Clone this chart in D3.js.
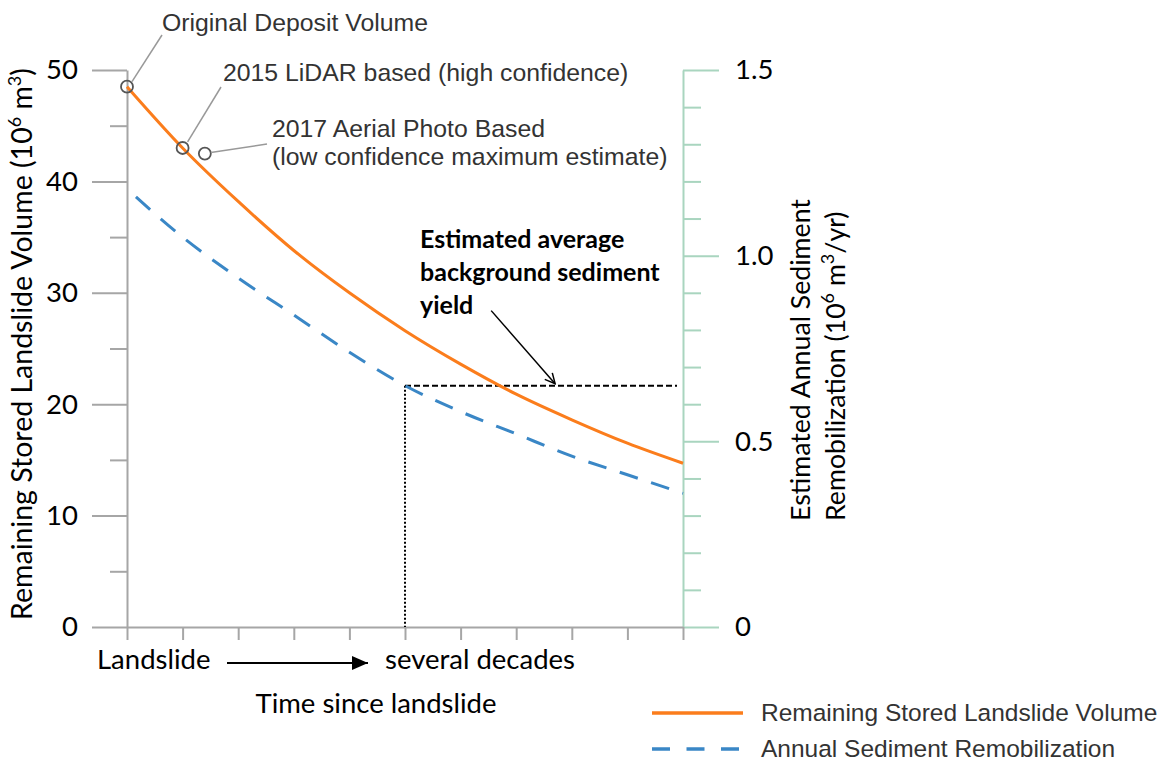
<!DOCTYPE html>
<html lang="en">
<head>
<meta charset="UTF-8">
<title>Stored landslide volume and sediment remobilization</title>
<script src="https://d3js.org/d3.v7.min.js"></script>
<style>
    body { margin: 0; background: #fff; }
    svg { display: block; }
    .cal { font-family: Lato, "Open Sans", sans-serif; fill: #000; }
    .ar { font-family: "Liberation Sans", Arial, sans-serif; fill: #333; }
</style>
</head>
<body>
<svg id="chart" width="1168" height="763"></svg>
<script>
    // time axis is unitless: 0 = landslide, 10 = several decades later
    const timeSteps = [0, 1, 2, 3, 4, 5, 6, 7, 8, 9, 10];
    const storedVolume = [48.5, 43.0, 38.2, 33.8, 30.0, 26.6, 23.6, 20.9, 18.6, 16.5, 14.7];   // 10^6 m3
    const remobilization = [1.18, 1.05, 0.94, 0.84, 0.74, 0.65, 0.58, 0.52, 0.46, 0.41, 0.36]; // 10^6 m3/yr

    const volumeTicks = [0, 10, 20, 30, 40, 50];
    const volumeMinorTicks = [5, 15, 25, 35, 45];
    const rateTicks = [0, 0.5, 1.0, 1.5];
    const rateTickLabels = ["0", "0.5", "1.0", "1.5"];
    const rateMinorTicks = [0.1, 0.2, 0.3, 0.4, 0.6, 0.7, 0.8, 0.9, 1.1, 1.2, 1.3, 1.4];

    // measured estimates marked with open circles
    const estimateTime = [0, 1, 1.4];
    const estimateVolume = [48.5, 43.0, 42.5];

    const backgroundYield = 0.65;   // 10^6 m3/yr
    const backgroundTime = 5;

    const orange = "#fb7d1c";
    const blue = "#3a87c6";
    const gray = "#a6a6a6";
    const green = "#a9d5bf";

    const svg = d3.select("#chart");

    const x = d3.scaleLinear().domain([0, 10]).range([127, 683]);
    const yL = d3.scaleLinear().domain([0, 50]).range([627, 70]);
    const yR = d3.scaleLinear().domain([0, 1.5]).range([627, 70]);

    function styleAxis(g, color) {
        g.attr("font-family", null).attr("font-size", null);
        g.selectAll("line").attr("stroke", color).attr("stroke-width", 2);
        g.selectAll("path").attr("stroke", color).attr("stroke-width", 2);
        g.selectAll("text").attr("class", "cal").attr("fill", "#000").style("font-size", "27.5px");
    }

    // right axis (green)
    svg.append("g")
        .attr("transform", `translate(${x(10)},0)`)
        .call(d3.axisRight(yR).tickValues(rateMinorTicks).tickSize(18).tickFormat(""))
        .call(g => g.select(".domain").remove())
        .call(g => styleAxis(g, green));
    svg.append("g")
        .attr("transform", `translate(${x(10)},0)`)
        .call(d3.axisRight(yR).tickValues(rateTicks).tickSize(36).tickSizeOuter(0).tickPadding(16)
            .tickFormat((d, i) => rateTickLabels[i]))
        .call(g => styleAxis(g, green));

    // left axis (gray)
    svg.append("g")
        .attr("transform", `translate(${x(0)},0)`)
        .call(d3.axisLeft(yL).tickValues(volumeMinorTicks).tickSize(17).tickFormat(""))
        .call(g => g.select(".domain").remove())
        .call(g => styleAxis(g, gray));
    svg.append("g")
        .attr("transform", `translate(${x(0)},0)`)
        .call(d3.axisLeft(yL).tickValues(volumeTicks).tickSize(35).tickSizeOuter(0).tickPadding(14))
        .call(g => styleAxis(g, gray));

    // time axis
    svg.append("g")
        .attr("transform", `translate(0,${yL(0)})`)
        .call(d3.axisBottom(x).tickValues(timeSteps).tickSize(13).tickSizeOuter(0).tickFormat(""))
        .call(g => styleAxis(g, gray));

    // background yield guide lines
    svg.append("line")
        .attr("x1", x(backgroundTime)).attr("x2", x(backgroundTime))
        .attr("y1", yR(backgroundYield)).attr("y2", yR(0))
        .attr("stroke", "#000").attr("stroke-width", 2).attr("stroke-dasharray", "2,2");
    svg.append("line")
        .attr("x1", x(backgroundTime)).attr("x2", x(10) - 6)
        .attr("y1", yR(backgroundYield)).attr("y2", yR(backgroundYield))
        .attr("stroke", "#000").attr("stroke-width", 2).attr("stroke-dasharray", "6,3");

    // series
    const volumeLine = d3.line()
        .x((d, i) => x(timeSteps[i]))
        .y(d => yL(d))
        .curve(d3.curveMonotoneX);
    const rateLine = d3.line()
        .x((d, i) => x(timeSteps[i]))
        .y(d => yR(d))
        .curve(d3.curveMonotoneX);

    svg.append("path")
        .datum(remobilization)
        .attr("d", rateLine)
        .attr("fill", "none")
        .attr("stroke", blue)
        .attr("stroke-width", 3)
        .attr("stroke-dasharray", "19,14")
        .attr("stroke-dashoffset", 21);

    svg.append("path")
        .datum(storedVolume)
        .attr("d", volumeLine)
        .attr("fill", "none")
        .attr("stroke", orange)
        .attr("stroke-width", 3);

    // estimate markers and their labels
    svg.selectAll(".est")
        .data(estimateTime)
        .join("circle")
        .attr("class", "est")
        .attr("cx", d => x(d))
        .attr("cy", (d, i) => yL(estimateVolume[i]))
        .attr("r", 6)
        .attr("fill", "none")
        .attr("stroke", "#555")
        .attr("stroke-width", 1.8);

    const leader = (x1, y1, x2, y2) => svg.append("line")
        .attr("x1", x1).attr("y1", y1).attr("x2", x2).attr("y2", y2)
        .attr("stroke", "#999").attr("stroke-width", 1.5);
    leader(x(0) + 5, yL(estimateVolume[0]) - 5, 162, 35);
    leader(x(1) + 5, yL(estimateVolume[1]) - 6, 221, 87);
    leader(x(1.4) + 6, yL(estimateVolume[2]) - 1, 267, 144);

    const note = (tx, ty, str) => svg.append("text")
        .attr("class", "ar").attr("x", tx).attr("y", ty)
        .style("font-size", "24.8px").text(str);
    note(162, 31, "Original Deposit Volume");
    note(223, 81, "2015 LiDAR based (high confidence)");
    note(272, 137, "2017 Aerial Photo Based");
    note(272, 165, "(low confidence maximum estimate)");

    // background yield annotation
    const yieldLines = ["Estimated average", "background sediment", "yield"];
    svg.append("text")
        .attr("class", "cal")
        .style("font-size", "25px").style("font-weight", "bold")
        .selectAll("tspan")
        .data(yieldLines)
        .join("tspan")
        .attr("x", 420)
        .attr("y", (d, i) => 248 + i * 33)
        .text(d => d);

    svg.append("defs").append("marker")
        .attr("id", "open-head")
        .attr("viewBox", "0 0 12 12").attr("refX", 11).attr("refY", 6)
        .attr("markerWidth", 12).attr("markerHeight", 12)
        .attr("markerUnits", "userSpaceOnUse").attr("orient", "auto")
        .append("path").attr("d", "M1,1 L11,6 L1,11")
        .attr("fill", "none").attr("stroke", "#000").attr("stroke-width", 1.5);
    svg.append("line")
        .attr("x1", x(6.55)).attr("y1", yR(0.852))
        .attr("x2", x(7.7)).attr("y2", yR(backgroundYield) - 2)
        .attr("stroke", "#000").attr("stroke-width", 1.5)
        .attr("marker-end", "url(#open-head)");

    // axis titles
    const sup = (t, s) => { t.append("tspan").attr("dy", -11).style("font-size", "18px").text(s); };
    const leftTitle = svg.append("text")
        .attr("class", "cal").style("font-size", "28.5px")
        .attr("text-anchor", "middle")
        .attr("transform", "translate(32,344) rotate(-90)");
    leftTitle.append("tspan").text("Remaining Stored Landslide Volume (10");
    sup(leftTitle, "6");
    leftTitle.append("tspan").attr("dy", 11).text(" m");
    sup(leftTitle, "3");
    leftTitle.append("tspan").attr("dy", 11).text(")");

    svg.append("text")
        .attr("class", "cal").style("font-size", "26.7px")
        .attr("transform", "translate(810,521) rotate(-90)")
        .text("Estimated Annual Sediment");
    const rightTitle = svg.append("text")
        .attr("class", "cal").style("font-size", "26.7px")
        .attr("transform", "translate(845,521) rotate(-90)");
    rightTitle.append("tspan").text("Remobilization (10");
    sup(rightTitle, "6");
    rightTitle.append("tspan").attr("dy", 11).text(" m");
    sup(rightTitle, "3");
    rightTitle.append("tspan").attr("dy", 11).text("/yr)");

    // time axis labels
    svg.append("text").attr("class", "cal").style("font-size", "27.5px")
        .attr("x", 97).attr("y", 669).text("Landslide");
    svg.append("text").attr("class", "cal").style("font-size", "27.5px")
        .attr("x", 385).attr("y", 669).text("several decades");
    svg.append("defs").append("marker")
        .attr("id", "solid-head")
        .attr("viewBox", "0 0 16 14").attr("refX", 16).attr("refY", 7)
        .attr("markerWidth", 16).attr("markerHeight", 14)
        .attr("markerUnits", "userSpaceOnUse").attr("orient", "auto")
        .append("path").attr("d", "M0,0 L16,7 L0,14 Z").attr("fill", "#000");
    svg.append("line")
        .attr("x1", 227).attr("y1", 663).attr("x2", 368).attr("y2", 663)
        .attr("stroke", "#000").attr("stroke-width", 2)
        .attr("marker-end", "url(#solid-head)");
    svg.append("text").attr("class", "cal").style("font-size", "27.5px")
        .attr("x", 376).attr("y", 713).attr("text-anchor", "middle")
        .text("Time since landslide");

    // legend
    const legendNames = ["Remaining Stored Landslide Volume", "Annual Sediment Remobilization"];
    const legendColors = [orange, blue];
    const legendDash = [null, "18,16.5"];
    const legend = svg.append("g").attr("transform", "translate(652,713)");
    legendNames.forEach((name, i) => {
        const row = legend.append("g").attr("transform", `translate(0,${i * 36})`);
        row.append("line")
            .attr("x1", 0).attr("x2", 91).attr("y1", 0).attr("y2", 0)
            .attr("stroke", legendColors[i]).attr("stroke-width", 3.5)
            .attr("stroke-dasharray", legendDash[i]);
        row.append("text")
            .attr("class", "ar").attr("x", 109).attr("y", 8)
            .style("font-size", "24.5px").text(name);
    });
</script>
</body>
</html>
